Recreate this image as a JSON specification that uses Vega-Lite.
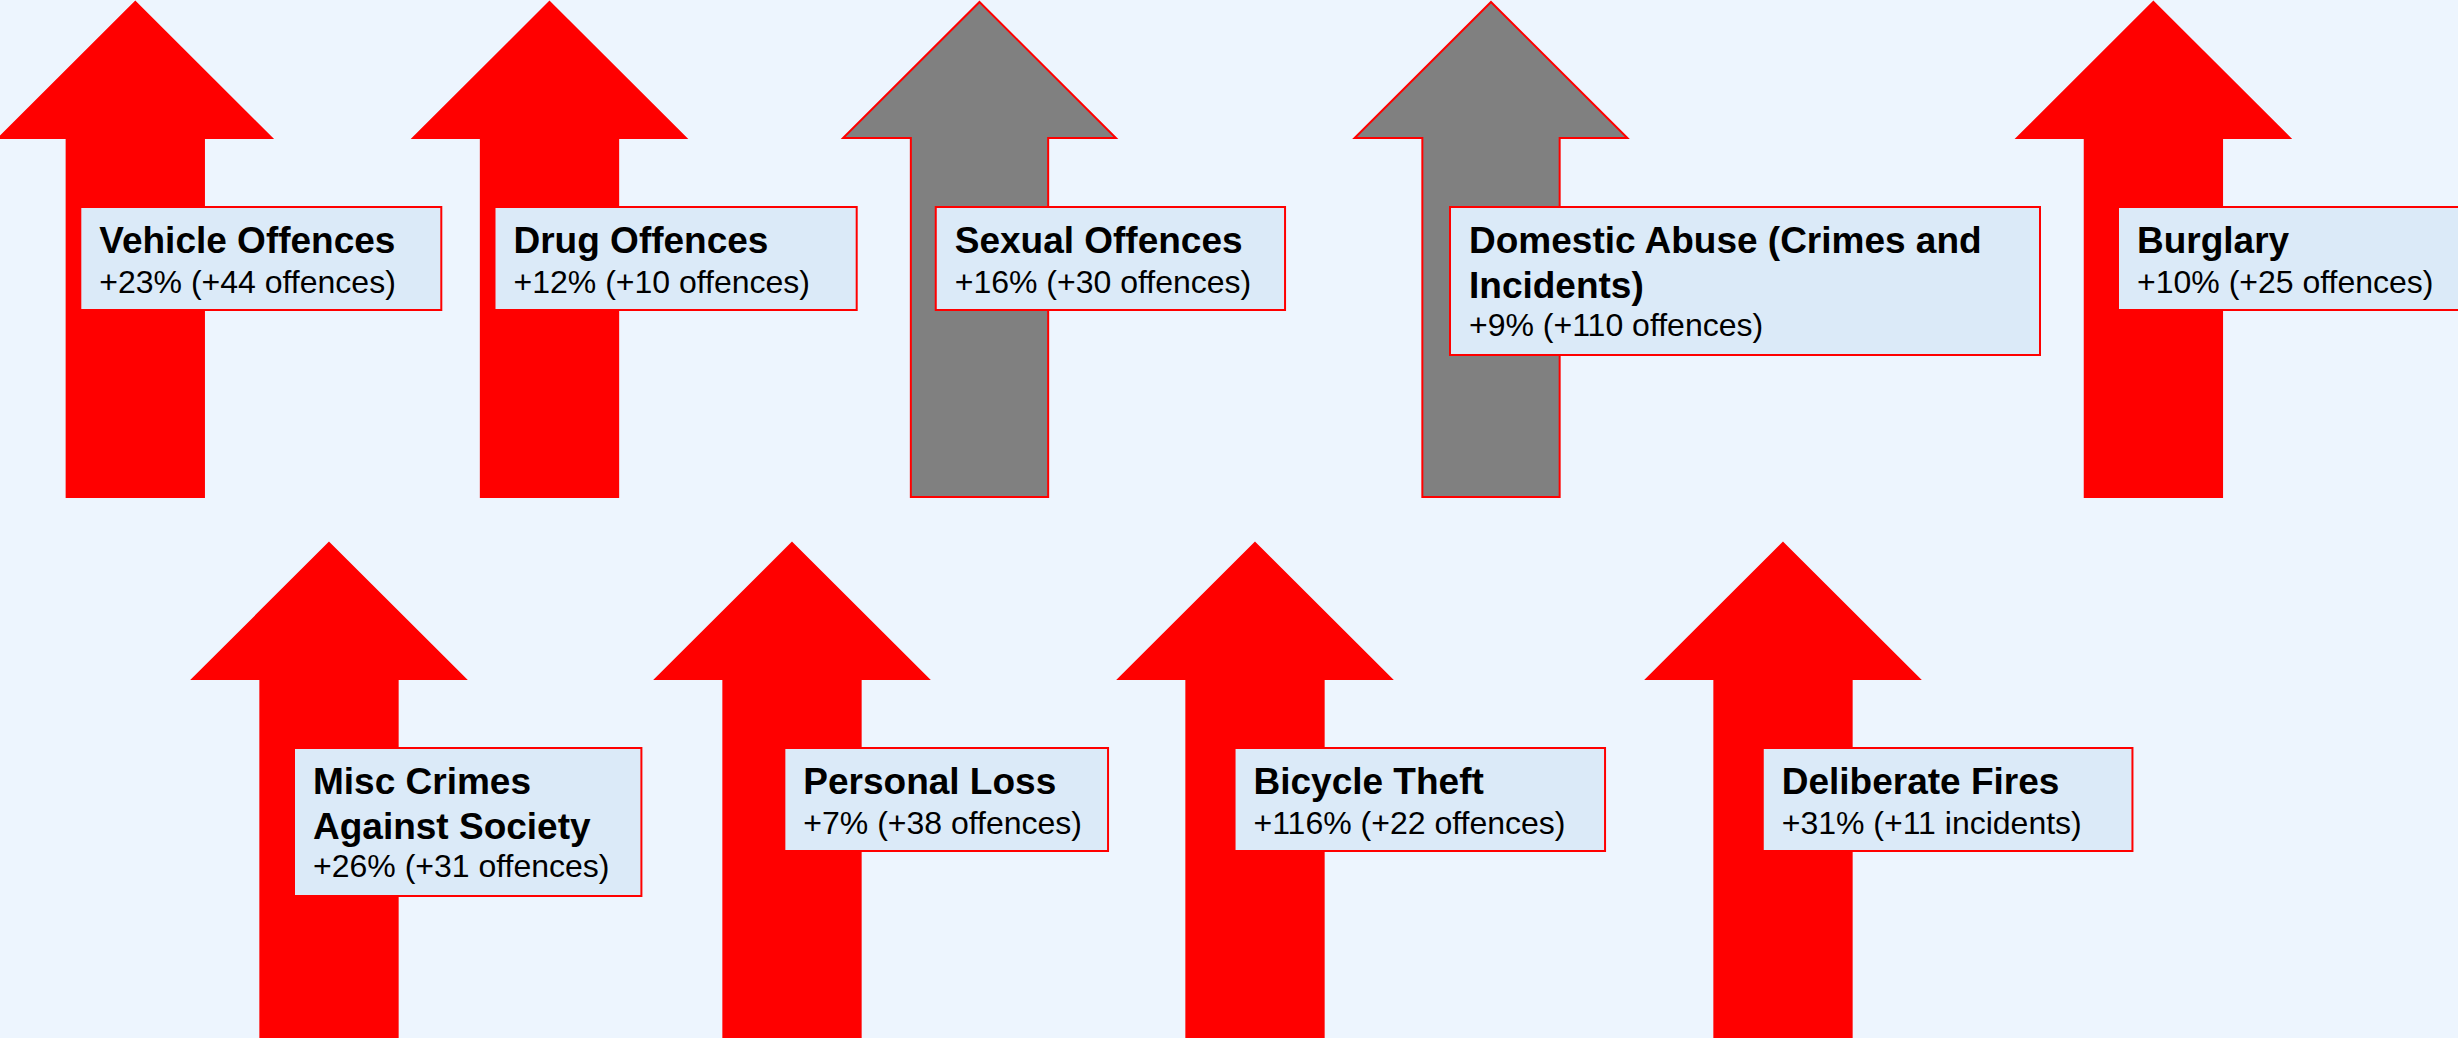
{
  "$schema": "https://vega.github.io/schema/vega-lite/v6.json",
  "width": 2458,
  "height": 1038,
  "padding": 0,
  "autosize": "none",
  "background": "#EDF5FE",
  "config": {"view": {"stroke": null}},
  "data": {
    "values": [
      {"seq": 0, "row": 1, "title": ["Vehicle Offences"], "detail": "+23% (+44 offences)", "pct_change": 23, "count_change": 44, "unit": "offences", "status": "Concern"},
      {"seq": 1, "row": 2, "title": ["Misc Crimes", "Against Society"], "detail": "+26% (+31 offences)", "pct_change": 26, "count_change": 31, "unit": "offences", "status": "Concern"},
      {"seq": 2, "row": 1, "title": ["Drug Offences"], "detail": "+12% (+10 offences)", "pct_change": 12, "count_change": 10, "unit": "offences", "status": "Concern"},
      {"seq": 3, "row": 2, "title": ["Personal Loss"], "detail": "+7% (+38 offences)", "pct_change": 7, "count_change": 38, "unit": "offences", "status": "Concern"},
      {"seq": 4, "row": 1, "title": ["Sexual Offences"], "detail": "+16% (+30 offences)", "pct_change": 16, "count_change": 30, "unit": "offences", "status": "Neutral"},
      {"seq": 5, "row": 2, "title": ["Bicycle Theft"], "detail": "+116% (+22 offences)", "pct_change": 116, "count_change": 22, "unit": "offences", "status": "Concern"},
      {"seq": 6, "row": 1, "title": ["Domestic Abuse (Crimes and", "Incidents)"], "detail": "+9% (+110 offences)", "pct_change": 9, "count_change": 110, "unit": "offences", "status": "Neutral"},
      {"seq": 7, "row": 2, "title": ["Deliberate Fires"], "detail": "+31% (+11 incidents)", "pct_change": 31, "count_change": 11, "unit": "incidents", "status": "Concern"},
      {"seq": 8, "row": 1, "title": ["Burglary"], "detail": "+10% (+25 offences)", "pct_change": 10, "count_change": 25, "unit": "offences", "status": "Concern"}
    ]
  },
  "resolve": {"scale": {"x": "independent", "size": "independent"}},
  "layer": [
    {
      "mark": {
        "type": "point",
        "shape": "M0,-1L0.5511,-0.4505L0.2774,-0.4505L0.2774,1L-0.2774,1L-0.2774,-0.4505L-0.5511,-0.4505Z",
        "size": 245025,
        "filled": true,
        "opacity": 1,
        "stroke": "#FF0000",
        "strokeWidth": 2,
        "yOffset": 247.5
      },
      "encoding": {
        "x": {"field": "seq", "type": "quantitative", "axis": null,
              "scale": {"domain": [0, 1, 2, 3, 4, 5, 6, 7, 8], "range": [135.3, 329, 549.5, 792, 979.5, 1255, 1491, 1783, 2153.4], "zero": false, "nice": false, "padding": 0}},
        "y": {"field": "row", "type": "quantitative", "axis": null,
              "scale": {"domain": [1, 2], "range": [2, 543], "zero": false, "nice": false, "padding": 0}},
        "color": {"field": "status", "type": "nominal", "legend": null,
                  "scale": {"domain": ["Concern", "Neutral"], "range": ["#FF0000", "#808080"]}}
      }
    },
    {
      "transform": [{"filter": "length(datum.title) == 1"}],
      "mark": {"type": "bar", "fill": "#DBEAF8", "stroke": "#FF0000", "strokeWidth": 2, "opacity": 1, "yOffset": 205, "y2Offset": 308},
      "encoding": {
        "x": {"field": "seq", "type": "quantitative", "axis": null,
              "scale": {"domain": [0, 1, 2, 3, 4, 5, 6, 7, 8], "range": [260.8, 467.7, 675.6, 946.2, 1110.4, 1419.8, 1745, 1947.6, 2304], "zero": false, "nice": false, "padding": 0}},
        "size": {"field": "seq", "type": "quantitative", "legend": null,
                 "scale": {"domain": [0, 1, 2, 3, 4, 5, 6, 7, 8], "range": [361, 347.4, 362.2, 323.7, 349.3, 370.5, 590, 369.7, 372], "zero": false, "nice": false}},
        "y": {"field": "row", "type": "quantitative", "axis": null,
              "scale": {"domain": [1, 2], "range": [2, 543], "zero": false, "nice": false, "padding": 0}},
        "y2": {"field": "row"}
      }
    },
    {
      "transform": [{"filter": "length(datum.title) > 1"}],
      "mark": {"type": "bar", "fill": "#DBEAF8", "stroke": "#FF0000", "strokeWidth": 2, "opacity": 1, "yOffset": 205, "y2Offset": 353},
      "encoding": {
        "x": {"field": "seq", "type": "quantitative", "axis": null,
              "scale": {"domain": [0, 1, 2, 3, 4, 5, 6, 7, 8], "range": [260.8, 467.7, 675.6, 946.2, 1110.4, 1419.8, 1745, 1947.6, 2304], "zero": false, "nice": false, "padding": 0}},
        "size": {"field": "seq", "type": "quantitative", "legend": null,
                 "scale": {"domain": [0, 1, 2, 3, 4, 5, 6, 7, 8], "range": [361, 347.4, 362.2, 323.7, 349.3, 370.5, 590, 369.7, 372], "zero": false, "nice": false}},
        "y": {"field": "row", "type": "quantitative", "axis": null,
              "scale": {"domain": [1, 2], "range": [2, 543], "zero": false, "nice": false, "padding": 0}},
        "y2": {"field": "row"}
      }
    },
    {
      "mark": {"type": "text", "font": "Liberation Sans", "fontWeight": "bold", "fontSize": 37, "align": "left", "baseline": "alphabetic", "lineHeight": 45, "dx": 19, "dy": 251, "color": "#000000"},
      "encoding": {
        "x": {"field": "seq", "type": "quantitative", "axis": null,
              "scale": {"domain": [0, 1, 2, 3, 4, 5, 6, 7, 8], "range": [80.3, 294, 494.5, 784.3, 935.7, 1234.5, 1450, 1762.7, 2118], "zero": false, "nice": false, "padding": 0}},
        "y": {"field": "row", "type": "quantitative", "axis": null,
              "scale": {"domain": [1, 2], "range": [2, 543], "zero": false, "nice": false, "padding": 0}},
        "text": {"field": "title"}
      }
    },
    {
      "transform": [{"filter": "length(datum.title) == 1"}],
      "mark": {"type": "text", "font": "Liberation Sans", "fontSize": 32, "align": "left", "baseline": "alphabetic", "dx": 19, "dy": 291, "color": "#000000"},
      "encoding": {
        "x": {"field": "seq", "type": "quantitative", "axis": null,
              "scale": {"domain": [0, 1, 2, 3, 4, 5, 6, 7, 8], "range": [80.3, 294, 494.5, 784.3, 935.7, 1234.5, 1450, 1762.7, 2118], "zero": false, "nice": false, "padding": 0}},
        "y": {"field": "row", "type": "quantitative", "axis": null,
              "scale": {"domain": [1, 2], "range": [2, 543], "zero": false, "nice": false, "padding": 0}},
        "text": {"field": "detail"}
      }
    },
    {
      "transform": [{"filter": "length(datum.title) > 1"}],
      "mark": {"type": "text", "font": "Liberation Sans", "fontSize": 32, "align": "left", "baseline": "alphabetic", "dx": 19, "dy": 334, "color": "#000000"},
      "encoding": {
        "x": {"field": "seq", "type": "quantitative", "axis": null,
              "scale": {"domain": [0, 1, 2, 3, 4, 5, 6, 7, 8], "range": [80.3, 294, 494.5, 784.3, 935.7, 1234.5, 1450, 1762.7, 2118], "zero": false, "nice": false, "padding": 0}},
        "y": {"field": "row", "type": "quantitative", "axis": null,
              "scale": {"domain": [1, 2], "range": [2, 543], "zero": false, "nice": false, "padding": 0}},
        "text": {"field": "detail"}
      }
    }
  ]
}
